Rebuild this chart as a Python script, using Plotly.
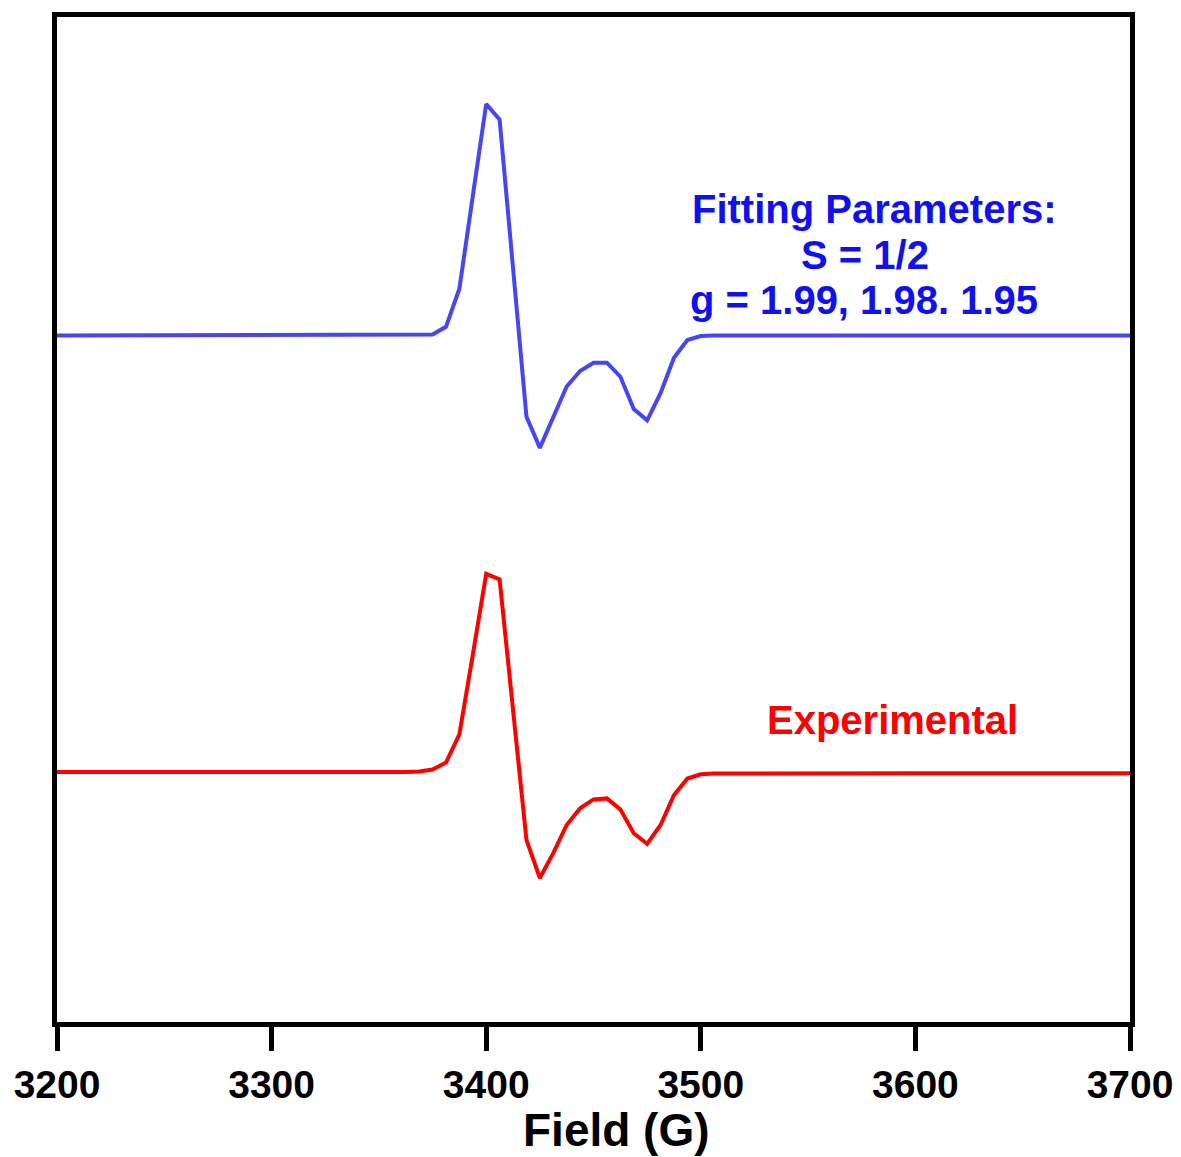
import plotly.graph_objects as go

# ---------------- data ----------------
field_fit = [3200, 3368.75, 3375, 3381.25, 3387.5, 3393.75, 3400, 3406.25, 3412.5,
             3418.75, 3425, 3431.25, 3437.5, 3443.75, 3450, 3456.25, 3462.5,
             3468.75, 3475, 3481.25, 3487.5, 3493.75, 3500, 3506.25, 3700]
signal_fit = [0, 0, 1, 8.6, 47, 140, 232.6, 217, 64,
              -81.4, -113, -81.4, -51.4, -35.7, -27.4, -27.4, -41.4,
              -74, -85.4, -58, -22.4, -4.7, -0.7, 0, 0]

field_exp = [3200, 3250, 3300, 3310, 3318.75, 3325, 3331.25, 3343.75, 3356.25,
             3362.5, 3368.75, 3375, 3381.25, 3387.5, 3393.75, 3400, 3406.25,
             3412.5, 3418.75, 3425, 3431.25, 3437.5, 3443.75, 3450, 3456.25,
             3462.5, 3468.75, 3475, 3481.25, 3487.5, 3493.75, 3500, 3506.25,
             3525, 3550, 3600, 3650, 3700]
signal_exp = [0.3, 0.3, 0, -0.6, 0.4, -0.4, 0.3, -0.3, 0,
              0.3, 0.8, 2.7, 9.7, 38, 118, 199.3, 193.7,
              61, -68, -106.3, -81.3, -53, -36.3, -27.3, -26.3,
              -37.3, -61.3, -72, -53, -23, -6.3, -2, -1.3,
              -1.3, -1, -1, -1, -1]

offset_fit = 690
offset_exp = 251

x_ticks = [3200, 3300, 3400, 3500, 3600, 3700]
x_ticklabels = ["3200", "3300", "3400", "3500", "3600", "3700"]

# ---------------- figure ----------------
PAGE_OFF = 8            # default body margin of the html page
W, H = 1181 - PAGE_OFF, 1157 - PAGE_OFF
L, R, T, B = 57 - PAGE_OFF, 51, 12 - PAGE_OFF, 135
pw, ph = W - L - R, H - T - B

def px_to_paper(px, py):
    # px, py are page pixel positions (reference picture coordinates)
    fx, fy = px - PAGE_OFF, py - PAGE_OFF
    return (fx - L) / pw, (H - B - fy) / ph

fig = go.Figure()
fig.add_trace(go.Scatter(x=field_fit, y=[v + offset_fit for v in signal_fit],
                         mode="lines", line=dict(color="#4646F2", width=4),
                         showlegend=False, hoverinfo="skip"))
fig.add_trace(go.Scatter(x=field_exp, y=[v + offset_exp for v in signal_exp],
                         mode="lines", line=dict(color="#FF0000", width=4),
                         showlegend=False, hoverinfo="skip"))

font_fam = "Liberation Sans, Arial, sans-serif"

def ann(text, px, py, color, size):
    x, y = px_to_paper(px, py)
    fig.add_annotation(text=text, x=x, y=y, xref="paper", yref="paper",
                       xanchor="center", yanchor="middle", showarrow=False,
                       font=dict(family=font_fam, size=size, color=color))

ann("<b>Fitting Parameters:</b>", 874, 205, "#1010F0", 40)
ann("<b>S = 1/2</b>", 865, 251, "#1010F0", 40)
ann("<b>g = 1.99, 1.98. 1.95</b>", 864, 296, "#1010F0", 40)
ann("<b>Experimental</b>", 892, 718, "#FF0000", 40)
ann("<b>Field (G)</b>", 616, 1131, "#000000", 46)

fig.update_layout(
    width=W, height=H,
    margin=dict(l=L, r=R, t=T, b=B),
    paper_bgcolor="white", plot_bgcolor="white",
    font=dict(family=font_fam, color="black"),
    xaxis=dict(range=[3200, 3700], tickvals=x_ticks,
               ticktext=["<b>%s</b>" % t for t in x_ticklabels],
               tickfont=dict(size=39, color="black", family=font_fam),
               ticks="outside", ticklen=24, tickwidth=5, tickcolor="black",
               showline=True, linewidth=5, linecolor="black", mirror=True,
               showgrid=False, zeroline=False),
    yaxis=dict(range=[0, ph], showticklabels=False, ticks="",
               showline=True, linewidth=5, linecolor="black", mirror=True,
               showgrid=False, zeroline=False),
)

fig.write_html("out.html")
